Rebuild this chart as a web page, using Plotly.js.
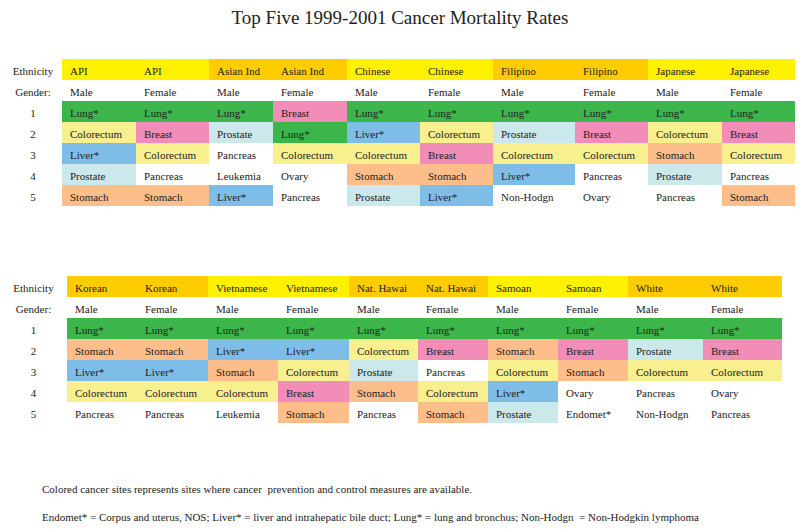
<!DOCTYPE html>
<html>
<head>
<meta charset="utf-8">
<script src="https://cdn.plot.ly/plotly-3.0.1.min.js"></script>
<style>html,body{margin:0;padding:0;background:#fff;}#chart{width:800px;height:530px;}</style>
</head>
<body>
<div id="chart"></div>
<script>
// ---- data ----
const topEthnicity = ["API","API","Asian Ind","Asian Ind","Chinese","Chinese","Filipino","Filipino","Japanese","Japanese"];
const topGender = ["Male","Female","Male","Female","Male","Female","Male","Female","Male","Female"];
const topRank1 = ["Lung*","Lung*","Lung*","Breast","Lung*","Lung*","Lung*","Lung*","Lung*","Lung*"];
const topRank2 = ["Colorectum","Breast","Prostate","Lung*","Liver*","Colorectum","Prostate","Breast","Colorectum","Breast"];
const topRank3 = ["Liver*","Colorectum","Pancreas","Colorectum","Colorectum","Breast","Colorectum","Colorectum","Stomach","Colorectum"];
const topRank4 = ["Prostate","Pancreas","Leukemia","Ovary","Stomach","Stomach","Liver*","Pancreas","Prostate","Pancreas"];
const topRank5 = ["Stomach","Stomach","Liver*","Pancreas","Prostate","Liver*","Non-Hodgn","Ovary","Pancreas","Stomach"];

const botEthnicity = ["Korean","Korean","Vietnamese","Vietnamese","Nat. Hawai","Nat. Hawai","Samoan","Samoan","White","White"];
const botGender = ["Male","Female","Male","Female","Male","Female","Male","Female","Male","Female"];
const botRank1 = ["Lung*","Lung*","Lung*","Lung*","Lung*","Lung*","Lung*","Lung*","Lung*","Lung*"];
const botRank2 = ["Stomach","Stomach","Liver*","Liver*","Colorectum","Breast","Stomach","Breast","Prostate","Breast"];
const botRank3 = ["Liver*","Liver*","Stomach","Colorectum","Prostate","Pancreas","Colorectum","Stomach","Colorectum","Colorectum"];
const botRank4 = ["Colorectum","Colorectum","Colorectum","Breast","Stomach","Colorectum","Liver*","Ovary","Pancreas","Ovary"];
const botRank5 = ["Pancreas","Pancreas","Leukemia","Stomach","Pancreas","Stomach","Prostate","Endomet*","Non-Hodgn","Pancreas"];

const rankLabels = ["1","2","3","4","5"];
const titleText = "Top Five 1999-2001 Cancer Mortality Rates";
const note1 = "Colored cancer sites represents sites where cancer  prevention and control measures are available.";
const note2 = "Endomet* = Corpus and uterus, NOS; Liver* = liver and intrahepatic bile duct; Lung* = lung and bronchus; Non-Hodgn  = Non-Hodgkin lymphoma";

// ---- styles ----
const siteColor = {
  "Lung*": "#3cb54b",
  "Breast": "#f18db7",
  "Colorectum": "#f8ef8e",
  "Liver*": "#7fbde9",
  "Prostate": "#cbe8ea",
  "Stomach": "#fdbe8b"
};
const ethColor = {
  "API": "#fff100", "Asian Ind": "#ffcc00", "Chinese": "#fff100", "Filipino": "#ffcc00", "Japanese": "#fff100",
  "Korean": "#ffcc00", "Vietnamese": "#fff100", "Nat. Hawai": "#ffcc00", "Samoan": "#fff100", "White": "#ffcc00"
};
const FONT = "Liberation Serif";
const TXT = "#222";

function buildTable(eth, gender, ranks, colWidths, domX, domY) {
  const n = eth.length;
  const values = [["Gender:"].concat(rankLabels)];
  const fills = [Array(6).fill("#ffffff")];
  for (let c = 0; c < n; c++) {
    const col = [gender[c]];
    const fcol = ["#ffffff"];
    ranks.forEach(r => { col.push(r[c]); fcol.push(siteColor[r[c]] || "#ffffff"); });
    values.push(col);
    fills.push(fcol);
  }
  const hdrFill = ["#ffffff"].concat(eth.map(e => ethColor[e]));
  const align = ["center"].concat(Array(n).fill("left"));
  return {
    type: "table",
    domain: {x: domX, y: domY},
    columnwidth: colWidths,
    header: {
      values: ["Ethnicity"].concat(eth),
      fill: {color: hdrFill},
      line: {width: 0, color: "rgba(0,0,0,0)"},
      align: align,
      height: 21,
      font: {family: FONT, size: 11, color: TXT}
    },
    cells: {
      values: values,
      fill: {color: fills},
      line: {width: 0, color: "rgba(0,0,0,0)"},
      align: align,
      height: 21,
      font: {family: FONT, size: 11, color: TXT}
    }
  };
}

const H = 530, W = 800;
const t1 = buildTable(topEthnicity, topGender, [topRank1, topRank2, topRank3, topRank4, topRank5],
  [58,74,73,64,74,73,73,82,73,74,73], [4/W, 795/W], [1-(59+152)/H, 1-59/H]);
const t2 = buildTable(botEthnicity, botGender, [botRank1, botRank2, botRank3, botRank4, botRank5],
  [67,70,71,70,71,69,70,70,70,75,79], [0, 782/W], [1-(276+152)/H, 1-276/H]);

const layout = {
  width: W, height: H,
  margin: {l: 0, r: 0, t: 0, b: 0},
  paper_bgcolor: "#ffffff",
  font: {family: FONT, size: 11, color: TXT},
  title: {text: titleText, x: 0.5, xanchor: "center", y: 1-17/H, yanchor: "middle", yref: "container",
          font: {family: FONT, size: 19, color: "#222"}},
  annotations: [
    {text: note1, xref: "paper", yref: "paper", x: 40/W, y: 1-489/H, xanchor: "left", yanchor: "middle",
     showarrow: false, font: {family: FONT, size: 11, color: "#222"}},
    {text: note2, xref: "paper", yref: "paper", x: 40/W, y: 1-517/H, xanchor: "left", yanchor: "middle",
     showarrow: false, font: {family: FONT, size: 11, color: "#222"}}
  ]
};

Plotly.newPlot("chart", [t1, t2], layout, {displayModeBar: false, staticPlot: true});
</script>
</body>
</html>
